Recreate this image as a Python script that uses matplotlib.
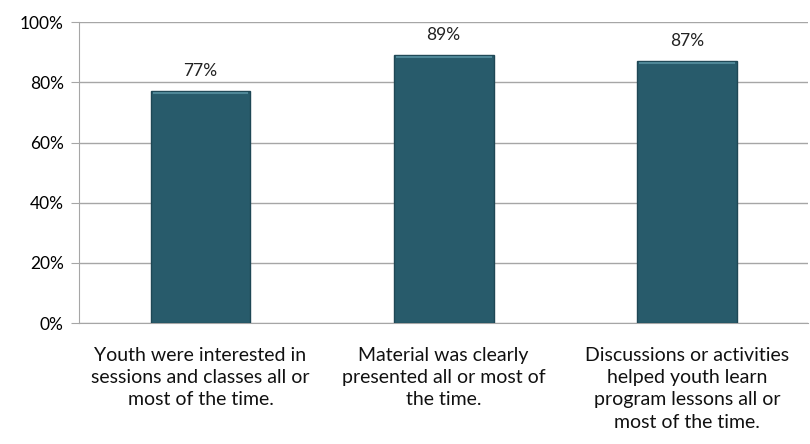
import matplotlib
matplotlib.use("Agg")
import matplotlib.pyplot as plt
from matplotlib.ticker import FuncFormatter, MultipleLocator

categories = [
    "Youth were interested in\nsessions and classes all or\nmost of the time.",
    "Material was clearly\npresented all or most of\nthe time.",
    "Discussions or activities\nhelped youth learn\nprogram lessons all or\nmost of the time.",
]
values = [77, 89, 87]

plt.rcParams['font.family'] = ['Lato', 'DejaVu Sans']

fig = plt.figure(figsize=(8.1, 4.44), dpi=100)
ax = fig.add_axes([0.0975, 0.2725, 0.9005, 0.6775])

x = list(range(len(values)))
bars = ax.bar(x, values, width=0.41, color="#285B6B", edgecolor="#1E4755", linewidth=1.0, zorder=3)
# lighter top edge to mimic the bevel
for b in bars:
    ax.plot([b.get_x() + 0.012, b.get_x() + b.get_width() - 0.012],
            [b.get_height() - 0.5] * 2, color="#4F8797", linewidth=1.5, zorder=4)

for xi, v in zip(x, values):
    ax.text(xi, v + 4, f"{v}%", ha="center", va="bottom", fontsize=12.5, color="#222222")

ax.set_xlim(-0.5, 2.5)
ax.set_ylim(0, 100)
ax.yaxis.set_major_locator(MultipleLocator(20))
ax.yaxis.set_major_formatter(FuncFormatter(lambda v, p: f"{int(v)}%"))
ax.grid(axis="y", color="#A6A6A6", linewidth=1.0, zorder=0)
ax.set_axisbelow(True)

for s in ["top", "right"]:
    ax.spines[s].set_visible(False)
ax.spines["left"].set_color("#A6A6A6")
ax.spines["bottom"].set_color("#A6A6A6")
ax.tick_params(axis="y", length=6, color="#A6A6A6", labelsize=12.5, pad=5)
ax.tick_params(axis="x", length=0, pad=17)
ax.set_xticks(x)
ax.set_xticklabels(categories, fontsize=14, linespacing=1.38, color="#111111")

fig.savefig("out.png", dpi=100)
